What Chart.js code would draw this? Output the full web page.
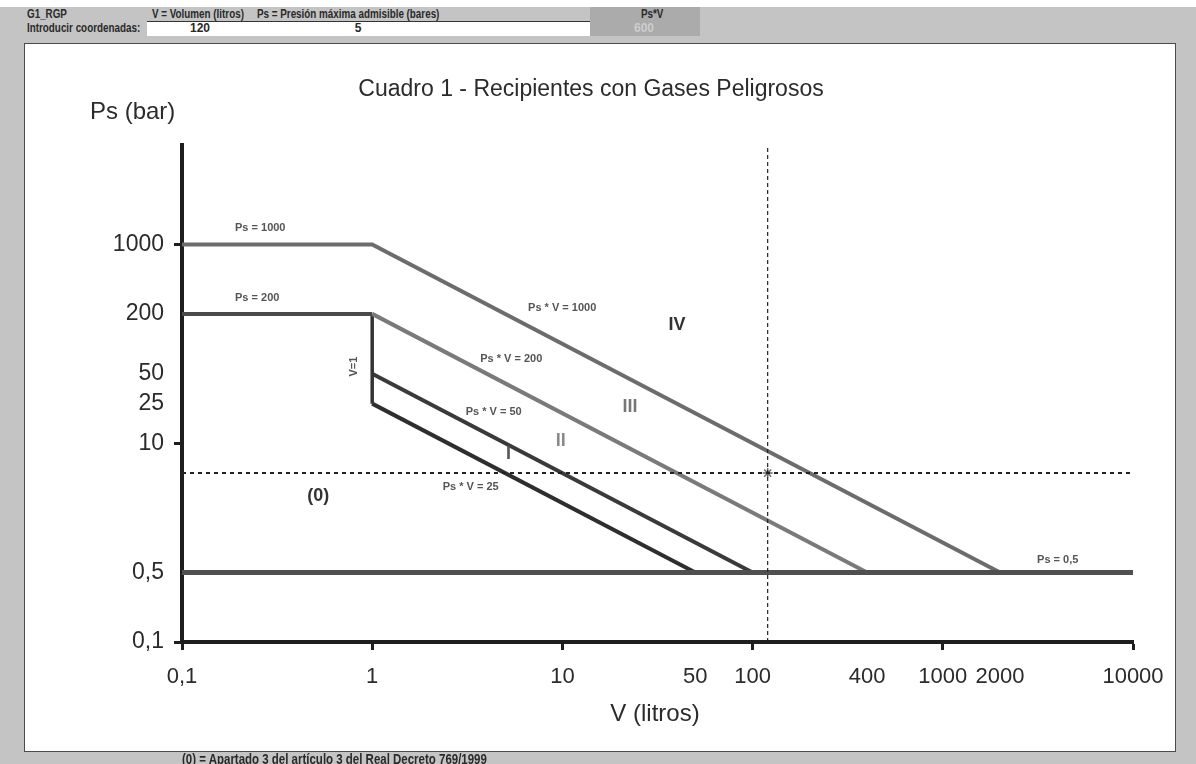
<!DOCTYPE html>
<html><head><meta charset="utf-8">
<script src="https://cdn.jsdelivr.net/npm/chart.js@4/dist/chart.umd.min.js"></script>
<style>
html,body{margin:0;padding:0;}
body{width:1196px;height:764px;background:#c4c4c4;position:relative;overflow:hidden;font-family:"Liberation Sans",Arial,sans-serif;}
.h{position:absolute;font-family:"Liberation Sans",Arial,sans-serif;font-weight:bold;font-size:12px;color:#2a2a2a;white-space:nowrap;line-height:13px;transform:scaleX(0.82);transform-origin:0 0;}
.hc{position:absolute;font-family:"Liberation Sans",Arial,sans-serif;font-weight:bold;font-size:12px;color:#2a2a2a;white-space:nowrap;line-height:13px;text-align:center;}
#box{position:absolute;left:24px;top:43px;width:1150px;height:707px;background:#fff;border:1px solid #4a4a4a;}
#c{position:absolute;left:0;top:0;}
</style></head><body>
<div style="position:absolute;left:0;top:0;width:1196px;height:7px;background:#fff"></div>
<div style="position:absolute;left:147px;top:21px;width:443px;height:14px;background:#fff;border-top:1px solid #333"></div>
<div style="position:absolute;left:590px;top:7px;width:110px;height:29px;background:#ababab"></div>
<div class="h" style="left:27px;top:8px">G1_RGP</div>
<div class="h" style="left:152px;top:8px">V = Volumen (litros)</div>
<div class="h" style="left:257px;top:8px">Ps = Presión máxima admisible (bares)</div>
<div class="h" style="left:641px;top:8px">Ps*V</div>
<div class="h" style="left:27px;top:22px">Introducir coordenadas:</div>
<div class="hc" style="left:180px;top:22px;width:40px" id="vIn"></div>
<div class="hc" style="left:338px;top:22px;width:40px" id="pIn"></div>
<div class="hc" style="left:624px;top:22px;width:40px;color:#cdcdcd" id="pvOut"></div>
<div id="box"></div>
<canvas id="c" width="1196" height="764"></canvas>
<div class="h" style="left:182px;top:752px;font-size:14px;line-height:15px">(0) = Apartado 3 del artículo 3 del Real Decreto 769/1999</div>
<script>
// ---- data ----
const inputV = 120;
const inputPs = 5;
const ps1000V = [0.1, 1, 2000];
const ps1000P = [1000, 1000, 0.5];
const ps200V = [0.1, 1];
const ps200P = [200, 200];
const pv200V = [1, 400];
const pv200P = [200, 0.5];
const v1V = [1, 1];
const v1P = [200, 25];
const pv50V = [1, 100];
const pv50P = [50, 0.5];
const pv25V = [1, 50];
const pv25P = [25, 0.5];
const ps05V = [0.1, 10000];
const ps05P = [0.5, 0.5];
const xTickValues = [0.1, 1, 10, 50, 100, 400, 1000, 2000, 10000];
const xTickLabels = ['0,1', '1', '10', '50', '100', '400', '1000', '2000', '10000'];
const xTickMarks = [0.1, 1, 10, 100, 1000, 10000];
const yTickValues = [0.1, 0.5, 10, 25, 50, 200, 1000];
const yTickLabels = ['0,1', '0,5', '10', '25', '50', '200', '1000'];
const yTickMarks = [0.1, 10, 1000];
const lineLabels = ['Ps = 1000', 'Ps = 200', 'Ps * V = 1000', 'Ps * V = 200', 'Ps * V = 50', 'Ps * V = 25', 'Ps = 0,5'];
const lineLabelV = [0.19, 0.19, 6.6, 3.7, 3.1, 2.35, 3130];
const lineLabelP = [1480, 292, 232, 71, 20.8, 3.65, 0.67];
const zoneLabels = ['IV', 'III', 'II', 'I', '(0)'];
const zoneLabelV = [40, 22.7, 9.8, 5.2, 0.52];
const zoneLabelP = [156, 23.3, 10.4, 7.7, 2.96];
const zoneColors = ['#333333', '#777777', '#8a8a8a', '#555555', '#333333'];
const chartTitle = 'Cuadro 1 - Recipientes con Gases Peligrosos';

document.getElementById('vIn').textContent = inputV;
document.getElementById('pIn').textContent = inputPs;
document.getElementById('pvOut').textContent = inputV * inputPs;

const FAM = '"Liberation Sans", Arial, sans-serif';
function mk(xs, ys, color, w, dash) {
  return {data: xs.map((x, i) => ({x: x, y: ys[i]})), borderColor: color, borderWidth: w,
    pointRadius: 0, borderDash: dash || [], fill: false, showLine: true, tension: 0, borderCapStyle: 'butt'};
}
const datasets = [
  mk([inputV, inputV], [0.1, 10000], '#222', 1.2, [4, 3]),
  mk([0.1, 10000], [inputPs, inputPs], '#222', 2, [4, 4]),
  {data: [{x: inputV, y: inputPs}], pointStyle: 'star', pointRadius: 5, borderColor: '#6a6a6a', borderWidth: 1.5, showLine: false},
  mk(ps05V, ps05P, '#4f4f4f', 5),
  mk(ps1000V, ps1000P, '#6c6c6c', 4),
  mk(ps200V, ps200P, '#4a4a4a', 4),
  mk(pv200V, pv200P, '#7a7a7a', 4),
  mk(v1V, v1P, '#333333', 3.5),
  mk(pv50V, pv50P, '#3a3a3a', 4),
  mk(pv25V, pv25P, '#2e2e2e', 4)
];

const textPlugin = {
  id: 'texts',
  afterDatasetsDraw(chart) {
    const ctx = chart.ctx, xs = chart.scales.x, ys = chart.scales.y;
    const ca = chart.chartArea;
    ctx.save();
    ctx.fillStyle = '#2b2b2b';
    ctx.font = '23px ' + FAM;
    ctx.textAlign = 'center'; ctx.textBaseline = 'alphabetic';
    ctx.fillText(chartTitle, 591, 96);
    ctx.font = '24px ' + FAM;
    ctx.textAlign = 'left';
    ctx.fillText('Ps (bar)', 90, 119);
    ctx.textAlign = 'center';
    ctx.fillText('V (litros)', 655, ca.bottom + 79);
    // line labels
    ctx.font = 'bold 11px ' + FAM;
    ctx.fillStyle = '#555';
    ctx.textAlign = 'left'; ctx.textBaseline = 'middle';
    lineLabels.forEach((t, i) => ctx.fillText(t, xs.getPixelForValue(lineLabelV[i]), ys.getPixelForValue(lineLabelP[i])));
    // V=1 rotated
    ctx.save();
    ctx.translate(xs.getPixelForValue(0.8), ys.getPixelForValue(59));
    ctx.rotate(-Math.PI / 2);
    ctx.textAlign = 'center';
    ctx.fillText('V=1', 0, 0);
    ctx.restore();
    // zone labels
    ctx.font = 'bold 18px ' + FAM;
    ctx.textAlign = 'center';
    zoneLabels.forEach((t, i) => {
      ctx.fillStyle = zoneColors[i];
      ctx.fillText(t, xs.getPixelForValue(zoneLabelV[i]), ys.getPixelForValue(zoneLabelP[i]));
    });
    ctx.restore();
  }
};

new Chart(document.getElementById('c'), {
  type: 'scatter',
  data: {datasets: datasets},
  plugins: [textPlugin],
  options: {
    responsive: false, animation: false, devicePixelRatio: 1,
    layout: {padding: {top: 145, right: 63, left: 0, bottom: 0}},
    plugins: {legend: {display: false}, tooltip: {enabled: false}, title: {display: false}},
    scales: {
      x: {
        type: 'logarithmic', position: 'bottom', min: 0.1, max: 10000,
        afterBuildTicks: s => { s.ticks = xTickValues.map(v => ({value: v})); },
        afterFit: s => { s.height = 122; },
        border: {color: '#1e1e1e', width: 4},
        grid: {drawOnChartArea: false, drawTicks: true, tickLength: 8, tickWidth: 3,
          tickColor: c => xTickMarks.includes(c.tick && c.tick.value) ? '#1e1e1e' : 'rgba(0,0,0,0)'},
        ticks: {autoSkip: false, maxRotation: 0, minRotation: 0, padding: 14, color: '#2b2b2b',
          font: {size: 22, family: FAM}, callback: (v, i) => xTickLabels[i]}
      },
      y: {
        type: 'logarithmic', position: 'left', min: 0.1, max: 10000,
        afterBuildTicks: s => { s.ticks = yTickValues.map(v => ({value: v})); },
        afterFit: s => { s.width = 182; },
        border: {color: '#1e1e1e', width: 4},
        grid: {drawOnChartArea: false, drawTicks: true, tickLength: 8, tickWidth: 3,
          tickColor: c => yTickMarks.includes(c.tick && c.tick.value) ? '#1e1e1e' : 'rgba(0,0,0,0)'},
        ticks: {autoSkip: false, padding: 10, color: '#2b2b2b',
          font: {size: 23, family: FAM}, callback: (v, i) => yTickLabels[i]}
      }
    }
  }
});
</script>
</body></html>
